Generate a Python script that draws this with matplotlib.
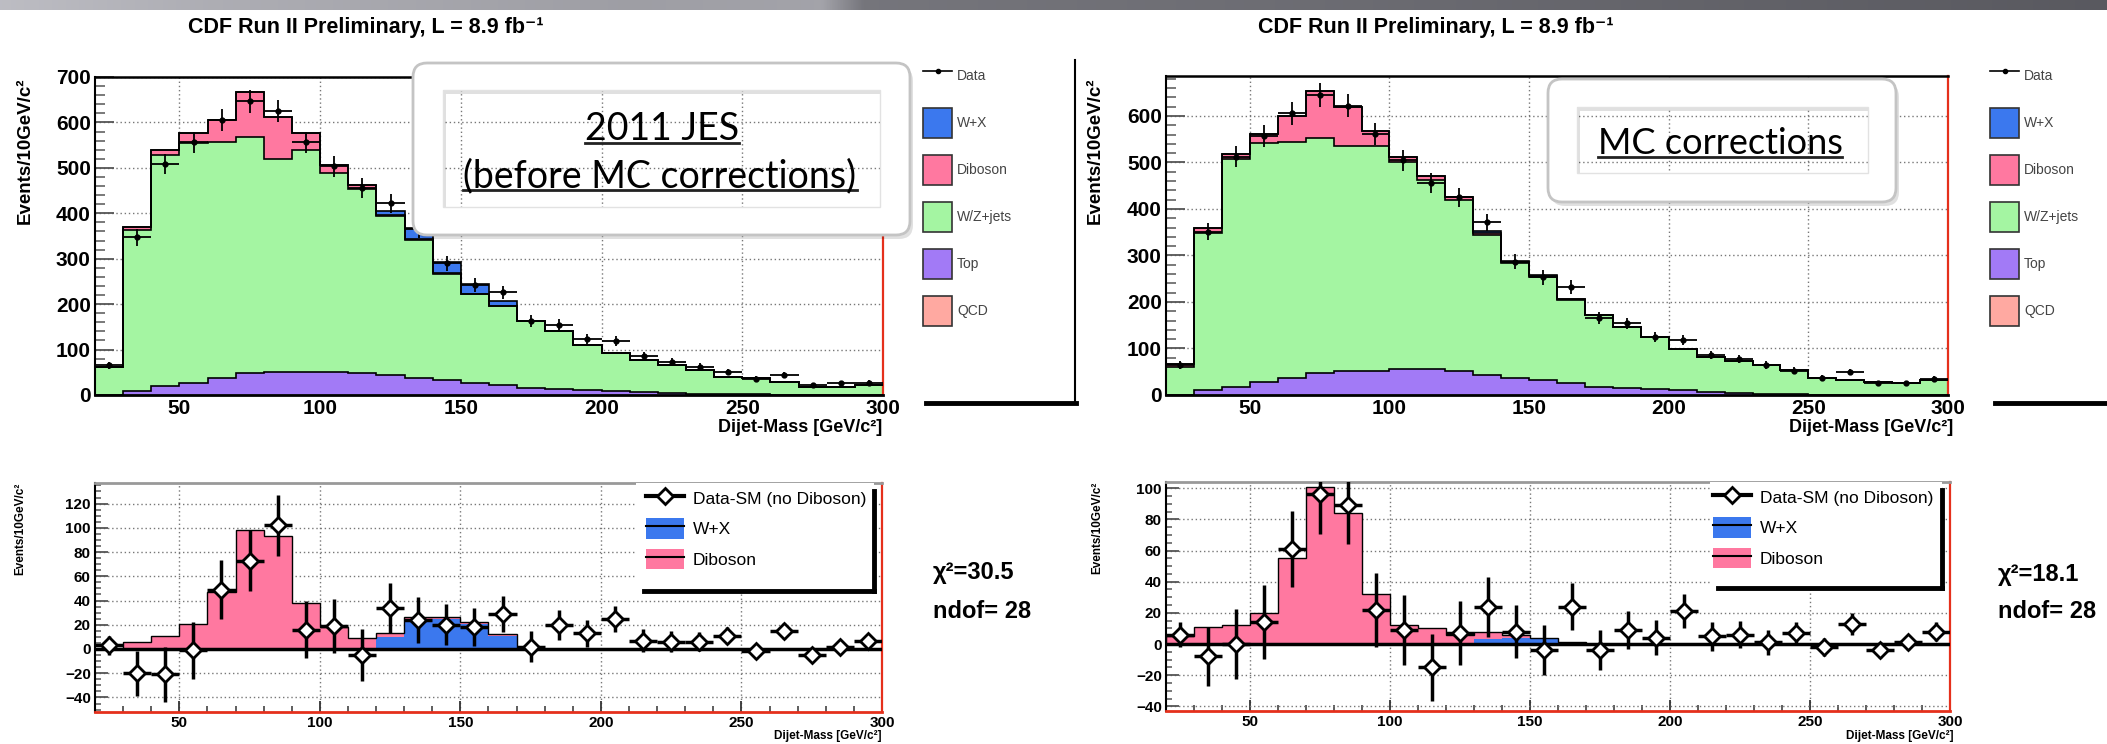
import numpy as np
import matplotlib
matplotlib.use("Agg")
from matplotlib import pyplot as plt
from matplotlib.legend import Legend
from matplotlib.lines import Line2D
from matplotlib.patches import Patch, Rectangle, FancyBboxPatch, PathPatch
from matplotlib.path import Path
from matplotlib.ticker import MultipleLocator

W, H = 2107, 744

# dijet mass bins, 10 GeV/c^2 wide
edges = np.arange(20, 310, 10)
centers = edges[:-1] + 5

# 2011 JES, before MC corrections
top_jes = [0, 8, 20, 27, 38, 48, 50, 50, 50, 48, 44, 38, 33, 26, 22, 16, 13, 10,
           8, 6, 5, 3, 2, 2, 1, 1, 0, 0]
wzjets_jes = [62, 356, 509, 528, 520, 520, 470, 489, 438, 405, 349, 303, 234,
              196, 173, 147, 127, 100, 84, 71, 61, 52, 38, 35, 28, 17, 18, 22]
diboson_jes = [0, 6, 11, 21, 47, 98, 93, 38, 18, 9, 3, 2, 1, 1, 1, 0, 0, 0, 0,
               0, 0, 0, 0, 0, 0, 0, 0, 0]
wx_jes = [0, 0, 0, 0, 0, 0, 0, 0, 0, 0, 10, 24, 25, 21, 11, 0, 0, 0, 0, 0, 0,
          0, 0, 0, 0, 0, 0, 0]
data_jes = [65, 347, 508, 556, 606, 647, 625, 556, 503, 456, 422, 365, 290, 242,
            226, 163, 154, 123, 118, 86, 73, 62, 51, 35, 44, 22, 26, 27]
resid_jes = [3, -20, -21, -1, 49, 73, 102, 16, 19, -5, 34, 24, 20, 18, 29, 2,
             20, 13, 25, 7, 6, 6, 11, -2, 15, -5, 2, 7]

# after MC corrections
top_mc = [0, 10, 18, 27, 37, 48, 52, 52, 55, 55, 52, 44, 37, 32, 25, 18, 15,
          12, 10, 7, 5, 3, 2, 1, 1, 0, 0, 0]
wzjets_mc = [61, 338, 489, 514, 508, 504, 484, 484, 445, 407, 367, 300, 246,
             222, 180, 154, 132, 112, 88, 75, 69, 62, 52, 35, 31, 27, 25, 32]
diboson_mc = [5, 11, 12, 20, 55, 101, 84, 32, 12, 10, 6, 5, 2, 1, 1, 0, 0, 0,
              0, 0, 0, 0, 0, 0, 0, 0, 0, 0]
wx_mc = [0, 0, 0, 0, 0, 0, 0, 0, 0, 0, 0, 3, 4, 3, 0, 0, 0, 0, 0, 0, 0, 0, 0,
         0, 0, 0, 0, 0]
data_mc = [65, 351, 512, 557, 606, 645, 622, 561, 505, 455, 425, 371, 287, 253,
           233, 165, 154, 125, 118, 86, 77, 65, 52, 36, 49, 25, 25, 34]
resid_mc = [6, -8, 0, 14, 61, 96, 89, 22, 9, -15, 7, 24, 8, -4, 24, -4, 9, 4,
            21, 5, 6, 1, 7, -2, 13, -4, 1, 8]

C_WX = "#3b78ee"
C_DIB = "#ff78a0"
C_WZ = "#a4f5a2"
C_TOP = "#a27af6"
C_QCD = "#ffa9a1"
RED = "#e5301c"

plt.rcParams["font.family"] = ["Liberation Sans", "DejaVu Sans"]
plt.rcParams["font.weight"] = "bold"
NOTE_FONT = ["Lato", "DejaVu Sans"]


def px_axes(fig, x0, y0, x1, y1):
    """axes placed by its pixel box, y counted from the top of the figure"""
    return fig.add_axes([x0 / W, 1 - y1 / H, (x1 - x0) / W, (y1 - y0) / H])


def style_frame(ax, ylim, ymajor, yminor, top_panel):
    ax.set_xlim(20, 300)
    ax.set_ylim(*ylim)
    ax.xaxis.set_major_locator(MultipleLocator(50))
    ax.xaxis.set_minor_locator(MultipleLocator(10))
    ax.yaxis.set_major_locator(MultipleLocator(ymajor))
    ax.yaxis.set_minor_locator(MultipleLocator(yminor))
    ax.set_axisbelow(True)
    ax.grid(True, which="major", ls=(0, (1, 2)), color="#777777", lw=1)
    if top_panel:
        size, ylen = 15, 14
    else:
        size, ylen = 11, 9
    ax.tick_params(axis="y", which="major", direction="in", length=ylen,
                   width=1.3, color="#555555", labelsize=size, pad=3)
    ax.tick_params(axis="y", which="minor", direction="in", length=ylen / 2,
                   width=1.1, color="#555555")
    ax.tick_params(axis="x", which="major", direction="in", length=8,
                   width=1.3, color="#333333", labelsize=size, pad=3)
    ax.tick_params(axis="x", which="minor", direction="in", length=4,
                   width=1.1, color="#333333")
    ax.spines["left"].set(color="black", lw=1.5)
    ax.spines["right"].set(color=RED, lw=1.6)
    if top_panel:
        ax.spines["top"].set(color="black", lw=1.8)
        ax.spines["bottom"].set(color="black", lw=2)
    else:
        ax.spines["top"].set(color="#999999", lw=2)
        ax.spines["bottom"].set(color=RED, lw=2)


def draw_stack(ax, top, wzjets, diboson, wx, data):
    """stacked MC expectation with the data points on top"""
    base = np.zeros(len(centers))
    for values, colour in ((top, C_TOP), (wzjets, C_WZ), (diboson, C_DIB),
                           (wx, C_WX)):
        upper = base + np.asarray(values, float)
        ax.stairs(upper, edges, baseline=base, fill=True, color=colour, lw=0,
                  zorder=2)
        ax.stairs(upper, edges, baseline=None, color="black", lw=1.2, zorder=3)
        base = upper
    data = np.asarray(data, float)
    ax.errorbar(centers, data, yerr=np.sqrt(data), xerr=5, fmt="o", ms=3.5,
                color="black", lw=1.3, capsize=0, zorder=5)


def draw_residual(ax, diboson, wx, resid, data):
    """data minus SM (without diboson) against the diboson expectation"""
    base = np.zeros(len(centers))
    for values, colour in ((wx, C_WX), (diboson, C_DIB)):
        upper = base + np.asarray(values, float)
        ax.stairs(upper, edges, baseline=base, fill=True, color=colour, lw=0,
                  zorder=2)
        base = upper
    ax.stairs(base, edges, baseline=0, color="black", lw=1, zorder=3)
    ax.axhline(0, color="black", lw=2.5, zorder=4)
    err = np.sqrt(np.asarray(data, float))
    ax.errorbar(centers, resid, yerr=err, xerr=5, fmt="D", ms=8, mfc="white",
                mec="black", mew=2, ecolor="black", elinewidth=2.5, capsize=0,
                zorder=5)


def note_box(ov, outer, inner):
    """rounded white note with a see-through window in the middle"""
    x0, y0, x1, y1 = outer
    ix0, iy0, ix1, iy1 = inner
    rounded = FancyBboxPatch((x0, y0), x1 - x0, y1 - y0,
                             boxstyle="round,pad=0,rounding_size=14")
    opath = rounded.get_path()
    verts = opath.vertices
    codes = opath.codes
    if codes is None:
        codes = [Path.MOVETO] + [Path.LINETO] * (len(verts) - 1)
    area = 0.5 * np.sum(verts[:-1, 0] * verts[1:, 1] - verts[1:, 0] * verts[:-1, 1])
    hole = np.array([(ix0, iy0), (ix1, iy0), (ix1, iy1), (ix0, iy1), (ix0, iy0)], float)
    harea = 0.5 * np.sum(hole[:-1, 0] * hole[1:, 1] - hole[1:, 0] * hole[:-1, 1])
    if np.sign(harea) == np.sign(area):
        hole = hole[::-1]
    hcodes = [Path.MOVETO, Path.LINETO, Path.LINETO, Path.LINETO, Path.CLOSEPOLY]
    frame = Path(np.vstack([verts, hole]), np.concatenate([codes, hcodes]))
    shadow = Path(frame.vertices + [3, 4], frame.codes)
    ov.add_patch(PathPatch(shadow, fc="black", alpha=0.12, lw=0))
    ov.add_patch(PathPatch(frame, fc="white", lw=0))
    ov.add_patch(FancyBboxPatch((x0, y0), x1 - x0, y1 - y0,
                                boxstyle="round,pad=0,rounding_size=14",
                                fc="none", ec="#c4c4c4", lw=2))
    ov.add_patch(Rectangle((ix0, iy0), ix1 - ix0, iy1 - iy0, fc="none",
                           ec="#e2e2e2", lw=1))


def stack_legend(ov, x, y):
    handles = [Line2D([], [], color="black", marker="o", ms=3, lw=1.2),
               Patch(fc=C_WX, ec="#333333", lw=1.2),
               Patch(fc=C_DIB, ec="#333333", lw=1.2),
               Patch(fc=C_WZ, ec="#333333", lw=1.2),
               Patch(fc=C_TOP, ec="#333333", lw=1.2),
               Patch(fc=C_QCD, ec="#333333", lw=1.2)]
    labels = ["Data", "W+X", "Diboson", "W/Z+jets", "Top", "QCD"]
    leg = Legend(ov, handles, labels, loc="upper left", bbox_to_anchor=(x, y),
                 bbox_transform=ov.transData, frameon=False,
                 prop={"size": 10, "weight": "normal"}, labelcolor="#444444",
                 handlelength=2.1, handleheight=2.95, labelspacing=1.22,
                 handletextpad=0.36, borderpad=0, borderaxespad=0)
    ov.add_artist(leg)


def residual_legend(ov, box, x, y):
    bx0, by0, bx1, by1 = box
    ov.add_patch(Rectangle((bx0, by0), bx1 - bx0, by1 - by0, fc="white",
                           ec="none"))
    ov.plot([bx1, bx1], [by0 + 8, by1], color="black", lw=3.5)
    ov.plot([bx0 + 8, bx1], [by1, by1], color="black", lw=3.5)
    handles = [Line2D([], [], color="black", lw=3, marker="D", ms=8,
                      mfc="white", mec="black", mew=2),
               (Patch(fc=C_WX, ec="none"), Line2D([], [], color="black", lw=1.5)),
               (Patch(fc=C_DIB, ec="none"), Line2D([], [], color="black", lw=1.5))]
    labels = ["Data-SM (no Diboson)", "W+X", "Diboson"]
    leg = Legend(ov, handles, labels, loc="upper left", bbox_to_anchor=(x, y),
                 bbox_transform=ov.transData, frameon=False,
                 prop={"size": 12.5, "weight": "normal"}, handlelength=2.2,
                 handleheight=1.4, labelspacing=0.6, handletextpad=0.5,
                 borderpad=0, borderaxespad=0)
    ov.add_artist(leg)


def main():
    fig = plt.figure(figsize=(W / 100, H / 100), dpi=100)
    fig.patch.set_facecolor("white")

    ax_tl = px_axes(fig, 95, 77, 883, 395)
    ax_tr = px_axes(fig, 1166, 76, 1948, 395)
    ax_bl = px_axes(fig, 95, 483, 882, 712)
    ax_br = px_axes(fig, 1166, 482, 1950, 711)

    draw_stack(ax_tl, top_jes, wzjets_jes, diboson_jes, wx_jes, data_jes)
    draw_stack(ax_tr, top_mc, wzjets_mc, diboson_mc, wx_mc, data_mc)
    draw_residual(ax_bl, diboson_jes, wx_jes, resid_jes, data_jes)
    draw_residual(ax_br, diboson_mc, wx_mc, resid_mc, data_mc)

    style_frame(ax_tl, (0, 700), 100, 20, True)
    style_frame(ax_tr, (0, 686), 100, 20, True)
    style_frame(ax_bl, (-52, 137), 20, 5, False)
    style_frame(ax_br, (-43, 104), 20, 5, False)

    # pixel-space layer for everything around the plots
    ov = fig.add_axes([0, 0, 1, 1], zorder=10)
    ov.axis("off")
    ov.set_autoscale_on(False)

    grad = np.interp(np.linspace(0, 1, 800),
                     [0, 0.10, 0.30, 0.39, 0.41, 0.65, 1.0],
                     [0.74, 0.68, 0.62, 0.64, 0.46, 0.42, 0.35])
    band = np.dstack([grad, grad, grad + 0.025])
    ov.imshow(np.clip(band, 0, 1), extent=(0, W, 10, 0), aspect="auto",
              zorder=0)
    ov.set_xlim(0, W)
    ov.set_ylim(H, 0)

    title = "CDF Run II Preliminary, L = 8.9 fb\u207b\u00b9"
    ov.text(188, 28, title, fontsize=15.5, ha="left", va="center")
    ov.text(1258, 28, title, fontsize=15.5, ha="left", va="center")

    ylab = "Events/10GeV/c\u00b2"
    ov.text(25, 77, ylab, rotation=90, ha="center", va="top", fontsize=13.5)
    ov.text(1095, 77, ylab, rotation=90, ha="center", va="top", fontsize=13.5)
    ov.text(20, 483, ylab, rotation=90, ha="center", va="top", fontsize=8.5)
    ov.text(1097, 482, ylab, rotation=90, ha="center", va="top", fontsize=8.5)

    xlab = "Dijet-Mass [GeV/c\u00b2]"
    ov.text(882, 428, xlab, ha="right", va="center", fontsize=13)
    ov.text(1953, 428, xlab, ha="right", va="center", fontsize=13)
    ov.text(882, 736, xlab, ha="right", va="center", fontsize=8.5)
    ov.text(1953, 736, xlab, ha="right", va="center", fontsize=8.5)

    ov.text(933, 573, "\u03c7\u00b2=30.5", ha="left", va="center", fontsize=17)
    ov.text(933, 612, "ndof= 28", ha="left", va="center", fontsize=17)
    ov.text(1998, 575, "\u03c7\u00b2=18.1", ha="left", va="center", fontsize=17)
    ov.text(1998, 612, "ndof= 28", ha="left", va="center", fontsize=17)

    stack_legend(ov, 923, 61)
    stack_legend(ov, 1990, 61)
    ov.plot([926, 1076], [403, 403], color="black", lw=3.5)
    ov.plot([1075, 1075], [60, 403], color="black", lw=1.5)
    ov.plot([1995, 2107], [403, 403], color="black", lw=3.5)

    residual_legend(ov, (636, 483, 874, 591), 646, 488)
    residual_legend(ov, (1710, 482, 1942, 588), 1713, 487)

    note_box(ov, (413, 63, 910, 235), (443, 90, 880, 207))
    note_box(ov, (1548, 79, 1896, 202), (1577, 107, 1868, 173))
    notes = [ov.text(662, 140, "2011 JES", fontsize=27, family=NOTE_FONT,
                     weight="normal", ha="center", va="baseline"),
             ov.text(660, 187, "(before MC corrections)", fontsize=27,
                     family=NOTE_FONT, weight="normal", ha="center",
                     va="baseline"),
             ov.text(1720, 154, "MC corrections", fontsize=26,
                     family=NOTE_FONT, weight="normal", ha="center",
                     va="baseline")]

    # underline the notes from their rendered extents
    fig.canvas.draw()
    inv = ov.transData.inverted()
    for note in notes:
        bb = note.get_window_extent()
        (ux0, _), (ux1, _) = inv.transform([(bb.x0, bb.y0), (bb.x1, bb.y0)])
        uy = note.get_position()[1] + 2.5
        ov.plot([ux0, ux1], [uy, uy], color="#222222", lw=2)

    fig.savefig("out.png", dpi=100)


if __name__ == "__main__":
    main()
